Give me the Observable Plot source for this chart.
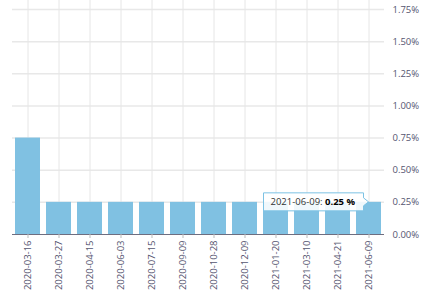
<!DOCTYPE html>
<html>
<head>
<meta charset="utf-8">
<script src="https://cdn.jsdelivr.net/npm/d3@7"></script>
<script src="https://cdn.jsdelivr.net/npm/@observablehq/plot@0.6"></script>
<style>
  html, body { margin: 0; padding: 0; background: #fff; }
  svg { display: block; }
</style>
</head>
<body>
<div id="chart"></div>
<script>
const dates = ["2020-03-16","2020-03-27","2020-04-15","2020-06-03","2020-07-15","2020-09-09","2020-10-28","2020-12-09","2021-01-20","2021-03-10","2021-04-21","2021-06-09"];
const rates = [0.75,0.25,0.25,0.25,0.25,0.25,0.25,0.25,0.25,0.25,0.25,0.25];
const yTicks = [0,0.25,0.5,0.75,1.0,1.25,1.5,1.75];
const tipDate = "2021-06-09";
const tipValue = 0.25;

const data = dates.map((d, i) => ({date: d, rate: rates[i]}));
const font = "'Open Sans', 'Liberation Sans', sans-serif";
const labelColor = "#555570";

const plot = Plot.plot({
  width: 433,
  height: 291,
  marginLeft: 12,
  marginRight: 49,
  marginTop: 0,
  marginBottom: 57,
  style: {fontFamily: font, fontSize: "9.5px", color: labelColor, background: "#fff"},
  x: {domain: dates, paddingInner: 0.2, paddingOuter: 0.065, label: null},
  y: {domain: [0, 1.82], label: null},
  marks: [
    Plot.ruleY(yTicks.filter(d => d > 0), {stroke: "#e8e8e8", strokeWidth: 1.5}),
    Plot.ruleX(dates, {stroke: "#e6e6e6", strokeWidth: 1}),
    Plot.barY(data, {x: "date", y: "rate", fill: "#80c1e2"}),
    Plot.ruleY([0], {stroke: "#6e6e80", strokeWidth: 1}),
    Plot.axisY({anchor: "right", ticks: yTicks, tickSize: 0, tickPadding: 8, tickFormat: d => d.toFixed(2) + "%", fill: labelColor, fontSize: 9.5}),
    Plot.axisX({tickRotate: -90, tickSize: 4, tickPadding: 2, stroke: "#bbb", fill: labelColor, fontSize: 9.5})
  ]
});

document.getElementById("chart").appendChild(plot);

// tooltip annotation positioned through the plot's scales
const xs = plot.scale("x");
const ys = plot.scale("y");
const tx = xs.apply(tipDate) + xs.bandwidth / 2;
const ty = ys.apply(tipValue);
const x1 = tx - 5, x0 = tx - 105;
const svg = d3.select(plot);
const g = svg.append("g").attr("font-family", font).attr("font-size", 9.5).attr("text-anchor", "start");
g.append("path")
  .attr("d", `M${x0},${ty - 9}H${x1}V${ty - 4}L${tx},${ty}L${x1},${ty + 4}V${ty + 9}H${x0}Z`)
  .attr("fill", "rgba(255,255,255,0.88)")
  .attr("stroke", "#7cc2e4")
  .attr("stroke-width", 1);
const t = g.append("text").attr("x", x0 + 7).attr("y", ty).attr("dy", "0.35em").attr("fill", "#333").attr("text-anchor", "start");
t.append("tspan").text(tipDate + ": ");
t.append("tspan").attr("font-weight", "bold").attr("fill", "#000").text(tipValue.toFixed(2) + " %");
</script>
</body>
</html>
